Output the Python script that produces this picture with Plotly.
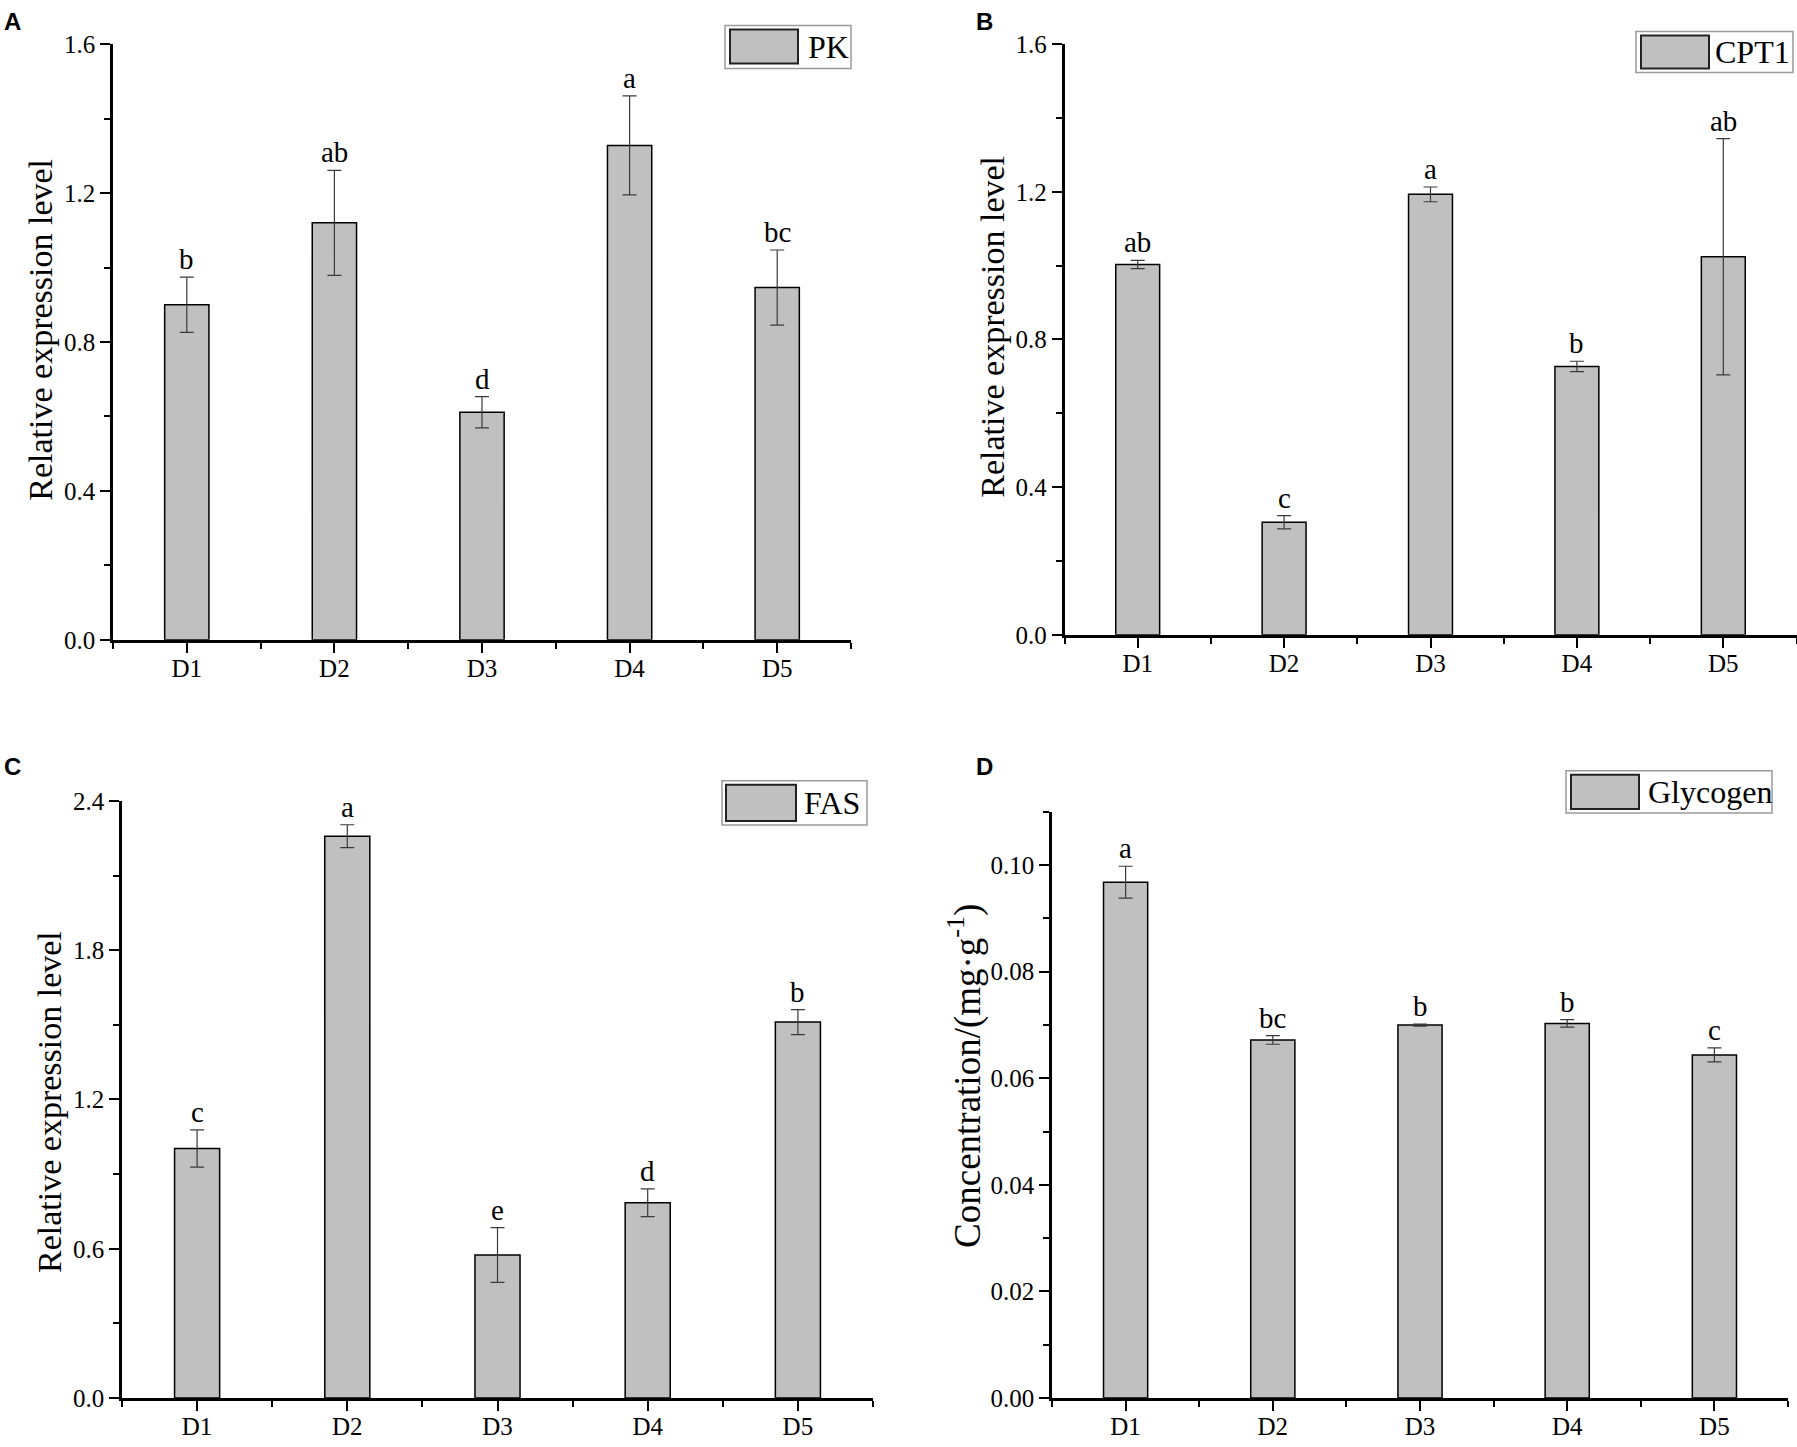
import plotly.graph_objects as go

W, H = 1797, 1447

days = ["D1", "D2", "D3", "D4", "D5"]

pk = [0.900, 1.120, 0.611, 1.328, 0.946]
pk_err = [0.074, 0.141, 0.042, 0.133, 0.101]
pk_sig = ["b", "ab", "d", "a", "bc"]

cpt1 = [1.003, 0.305, 1.193, 0.727, 1.024]
cpt1_err = [0.011, 0.018, 0.020, 0.014, 0.320]
cpt1_sig = ["ab", "c", "a", "b", "ab"]

fas = [1.003, 2.258, 0.575, 0.785, 1.511]
fas_err = [0.075, 0.046, 0.110, 0.056, 0.050]
fas_sig = ["c", "a", "e", "d", "b"]

glycogen = [0.0968, 0.0672, 0.0700, 0.0703, 0.0644]
glycogen_err = [0.0030, 0.0008, 0.0002, 0.0007, 0.0013]
glycogen_sig = ["a", "bc", "b", "b", "c"]

SERIF = "Liberation Serif"

# the snapshot comes back with ~13px of padding above and below the page,
# so vertical pixel positions are mapped onto that slightly shorter strip
OFF, S = 13.4, 0.981


def px(x):
    return x / W


def py(y):
    return 1 - (y - OFF) / S / H


# pixel boxes of each panel: left, right, top, bottom of the axes
panels = [
    dict(tag="A", y=pk, err=pk_err, sig=pk_sig, name="PK", box=(113, 851, 44.5, 640),
         rng=[0, 1.6], dtick=0.4, fmt=".1f", title="Relative expression level",
         tpos=(41, 330), tsize=34, letter=(2, 22),
         leg=(725, 851, 26, 69, 730, 798, 30, 64, 806)),
    dict(tag="B", y=cpt1, err=cpt1_err, sig=cpt1_sig, name="CPT1", box=(1064.5, 1796.5, 44.5, 635),
         rng=[0, 1.6], dtick=0.4, fmt=".1f", title="Relative expression level",
         tpos=(993, 327), tsize=34, letter=(974, 22),
         leg=(1636, 1793, 32, 73, 1641, 1709, 36, 69, 1713)),
    dict(tag="C", y=fas, err=fas_err, sig=fas_sig, name="FAS", box=(122, 873, 801, 1398),
         rng=[0, 2.4], dtick=0.6, fmt=".1f", title="Relative expression level",
         tpos=(50, 1102), tsize=34, letter=(2, 767),
         leg=(722, 867, 781, 825, 726, 796, 785, 821, 802)),
    dict(tag="D", y=glycogen, err=glycogen_err, sig=glycogen_sig, name="Glycogen", box=(1052, 1788, 812, 1398),
         rng=[0, 0.11], dtick=0.02, fmt=".2f", title="Concentration/(mg·g<sup>-1</sup>)",
         tpos=(965, 1076), tsize=37, letter=(974, 767),
         leg=(1566, 1772, 771, 813, 1571, 1639, 775, 809, 1646)),
]

pos = list(range(len(days)))
bounds = [i - 0.5 for i in range(len(days) + 1)]

fig = go.Figure()
layout = {}
annotations = []
shapes = []

for i, p in enumerate(panels):
    k = "" if i == 0 else str(i + 1)
    xa, ya = "x" + k, "y" + k
    left, right, top, bottom = p["box"]

    fig.add_trace(go.Bar(
        x=pos, y=p["y"], width=0.3, xaxis=xa, yaxis=ya, showlegend=False,
        marker=dict(color="#c0c0c0", line=dict(color="black", width=1.5)),
        error_y=dict(type="data", array=p["err"], color="#3a3a3a", thickness=1.2, width=7),
    ))

    layout["xaxis" + k] = dict(
        domain=[px(left), px(right)], anchor=ya, range=[-0.5, len(days) - 0.5],
        tickmode="array", tickvals=pos, ticktext=days,
        ticks="outside", ticklen=10, tickwidth=2, tickcolor="black", ticklabelstandoff=-6,
        showline=True, linewidth=2.5, linecolor="black", showgrid=False, zeroline=False,
        tickfont=dict(family=SERIF, size=25, color="black"),
        minor=dict(tickmode="array", tickvals=bounds, ticks="outside", ticklen=6,
                   tickwidth=2, tickcolor="black", showgrid=False),
    )
    layout["yaxis" + k] = dict(
        domain=[py(bottom), py(top)], anchor=xa, range=p["rng"],
        tick0=0, dtick=p["dtick"], tickformat=p["fmt"],
        ticks="outside", ticklen=10, tickwidth=2, tickcolor="black",
        showline=True, linewidth=2.5, linecolor="black", showgrid=False, zeroline=False,
        tickfont=dict(family=SERIF, size=25, color="black"),
        minor=dict(dtick=p["dtick"] / 2, ticks="outside", ticklen=6,
                   tickwidth=2, tickcolor="black", showgrid=False),
    )

    # significance letters above error bars
    for xv, yv, ev, s in zip(pos, p["y"], p["err"], p["sig"]):
        annotations.append(dict(
            x=xv, y=yv + ev, xref=xa, yref=ya, text=s, showarrow=False,
            xanchor="center", yanchor="bottom", yshift=0,
            font=dict(family=SERIF, size=29, color="black"),
        ))

    # axis title
    tx, ty = p["tpos"]
    annotations.append(dict(
        x=px(tx), y=py(ty), xref="paper", yref="paper",
        text=p["title"], textangle=-90, showarrow=False, xanchor="center", yanchor="middle",
        font=dict(family=SERIF, size=p["tsize"], color="black"),
    ))

    # panel letter
    lx, ly = p["letter"]
    annotations.append(dict(
        x=px(lx), y=py(ly), xref="paper", yref="paper", text="<b>%s</b>" % p["tag"],
        showarrow=False, xanchor="left", yanchor="middle",
        font=dict(family="Liberation Sans", size=24, color="black"),
    ))

    # legend box
    bx0, bx1, by0, by1, sx0, sx1, sy0, sy1, lt = p["leg"]
    shapes.append(dict(type="rect", xref="paper", yref="paper",
                       x0=px(bx0), x1=px(bx1), y0=py(by1), y1=py(by0),
                       line=dict(color="#9a9a9a", width=1.5), fillcolor="white"))
    shapes.append(dict(type="rect", xref="paper", yref="paper",
                       x0=px(sx0), x1=px(sx1), y0=py(sy1), y1=py(sy0),
                       line=dict(color="#222222", width=2), fillcolor="#c0c0c0"))
    annotations.append(dict(
        x=px(lt), y=py((by0 + by1) / 2), xref="paper", yref="paper", text=p["name"],
        showarrow=False, xanchor="left", yanchor="middle",
        font=dict(family=SERIF, size=32, color="black"),
    ))

fig.update_layout(
    width=W, height=H, margin=dict(l=0, r=0, t=0, b=0),
    paper_bgcolor="white", plot_bgcolor="white",
    annotations=annotations, shapes=shapes, **layout,
)

fig.write_html("out.html", config={"displayModeBar": False},
               post_script="document.body.style.margin='0';document.body.style.overflow='hidden';")
